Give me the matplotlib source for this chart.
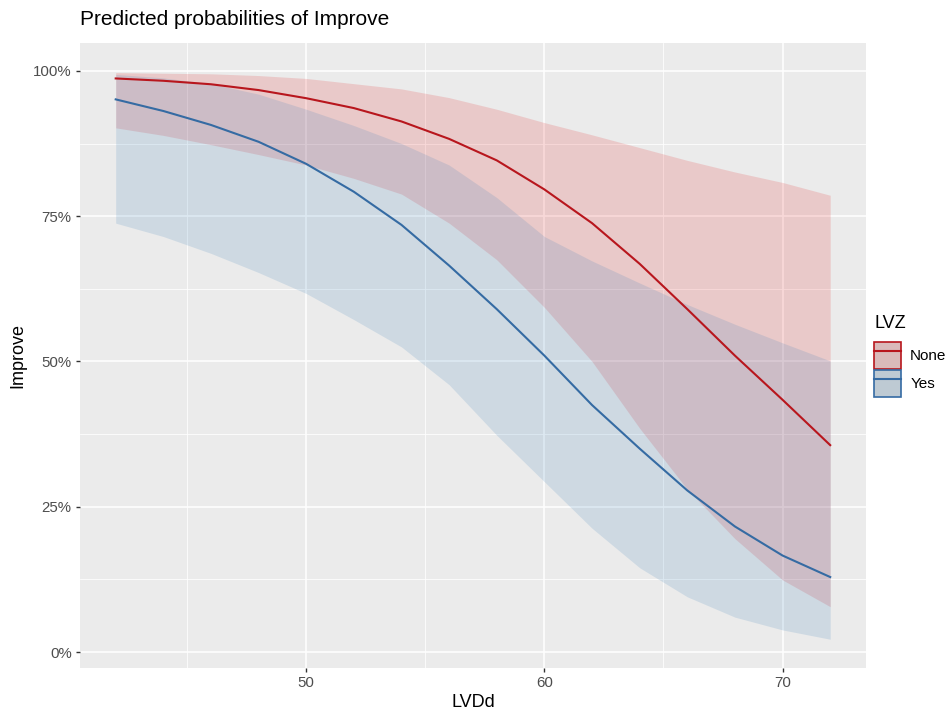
import matplotlib.pyplot as plt
from matplotlib.lines import Line2D
from matplotlib.patches import Patch
from matplotlib.ticker import FuncFormatter, MultipleLocator

plt.rcParams['font.family'] = ['Liberation Sans', 'DejaVu Sans']

# ---- data ----
lvdd = [42, 44, 46, 48, 50, 52, 54, 56, 58, 60, 62, 64, 66, 68, 70, 72]

none_fit = [98.7, 98.3, 97.7, 96.7, 95.3, 93.6, 91.3, 88.3, 84.6, 79.6, 73.8, 66.8, 59.0, 51.0, 43.4, 35.6]
none_hi  = [99.7, 99.6, 99.5, 99.2, 98.7, 97.8, 96.9, 95.4, 93.4, 91.1, 89.0, 86.8, 84.6, 82.6, 80.8, 78.6]
none_lo  = [90.2, 88.9, 87.3, 85.6, 83.8, 81.5, 78.8, 73.8, 67.5, 59.3, 50.0, 38.5, 28.0, 19.5, 12.4, 7.8]

yes_fit = [95.1, 93.1, 90.7, 87.8, 84.0, 79.2, 73.5, 66.5, 59.0, 51.0, 42.5, 35.0, 27.8, 21.6, 16.6, 12.9]
yes_hi  = [99.4, 98.8, 97.8, 96.0, 93.4, 90.6, 87.5, 83.8, 78.2, 71.5, 67.3, 63.5, 59.8, 56.4, 53.2, 50.1]
yes_lo  = [73.8, 71.5, 68.6, 65.3, 61.7, 57.2, 52.5, 46.0, 37.3, 29.3, 21.3, 14.5, 9.5, 6.0, 3.8, 2.2]

groups = ["None", "Yes"]
line_colors = ["#B8161D", "#356BA3"]
fill_colors = ["#E41A1C", "#377EB8"]

fig = plt.figure(figsize=(9.52, 7.12), dpi=100)
ax = fig.add_axes([0.084, 0.0618, 0.8256, 0.8778])
ax.set_facecolor("#EBEBEB")

series = [(none_fit, none_lo, none_hi), (yes_fit, yes_lo, yes_hi)]
for (fit, lo, hi), fc in zip(series, fill_colors):
    ax.fill_between(lvdd, [v / 100 for v in lo], [v / 100 for v in hi],
                    color=fc, alpha=0.16, linewidth=0, zorder=2)
for (fit, lo, hi), lc in zip(series, line_colors):
    ax.plot(lvdd, [v / 100 for v in fit], color=lc, linewidth=1.5, zorder=3)

ax.set_xlim(40.5, 73.5)
ax.set_ylim(-0.0275, 1.048)
ax.xaxis.set_major_locator(MultipleLocator(10))
ax.xaxis.set_minor_locator(MultipleLocator(5))
ax.yaxis.set_major_locator(MultipleLocator(0.25))
ax.yaxis.set_minor_locator(MultipleLocator(0.125))
ax.yaxis.set_major_formatter(FuncFormatter(lambda v, p: f"{v * 100:.0f}%"))

ax.grid(which="major", color="white", linewidth=1.1, zorder=1)
ax.grid(which="minor", color="white", linewidth=0.55, zorder=1)
ax.set_axisbelow(True)
for s in ax.spines.values():
    s.set_visible(False)
ax.tick_params(which="major", length=3, width=1, color="#333333",
               labelsize=10.8, labelcolor="#4D4D4D", pad=3)
ax.tick_params(which="minor", length=0)

ax.set_xlabel("LVDd", fontsize=13, color="black", labelpad=3)
ax.set_ylabel("Improve", fontsize=13, color="black", labelpad=5)
fig.text(0.084, 0.972, "Predicted probabilities of Improve", fontsize=15,
         ha="left", va="center")

handles = []
for lc, fc in zip(line_colors, fill_colors):
    patch = Patch(facecolor=fc, alpha=0.16, edgecolor="none")
    patch_edge = Patch(facecolor="none", edgecolor=lc, linewidth=1.2)
    line = Line2D([0], [0], color=lc, linewidth=1.5)
    handles.append((Patch(facecolor="#D9D9D9"), patch, patch_edge, line))
leg = fig.legend(handles, groups, title="LVZ", loc="upper left",
                 bbox_to_anchor=(0.912, 0.566), frameon=False,
                 fontsize=11, title_fontsize=13, handlelength=1.75,
                 handleheight=2.35, labelspacing=0.05, handletextpad=0.6,
                 borderaxespad=0)
leg._legend_box.align = "left"
leg._legend_box.sep = 7

fig.savefig("out.png", dpi=100)
